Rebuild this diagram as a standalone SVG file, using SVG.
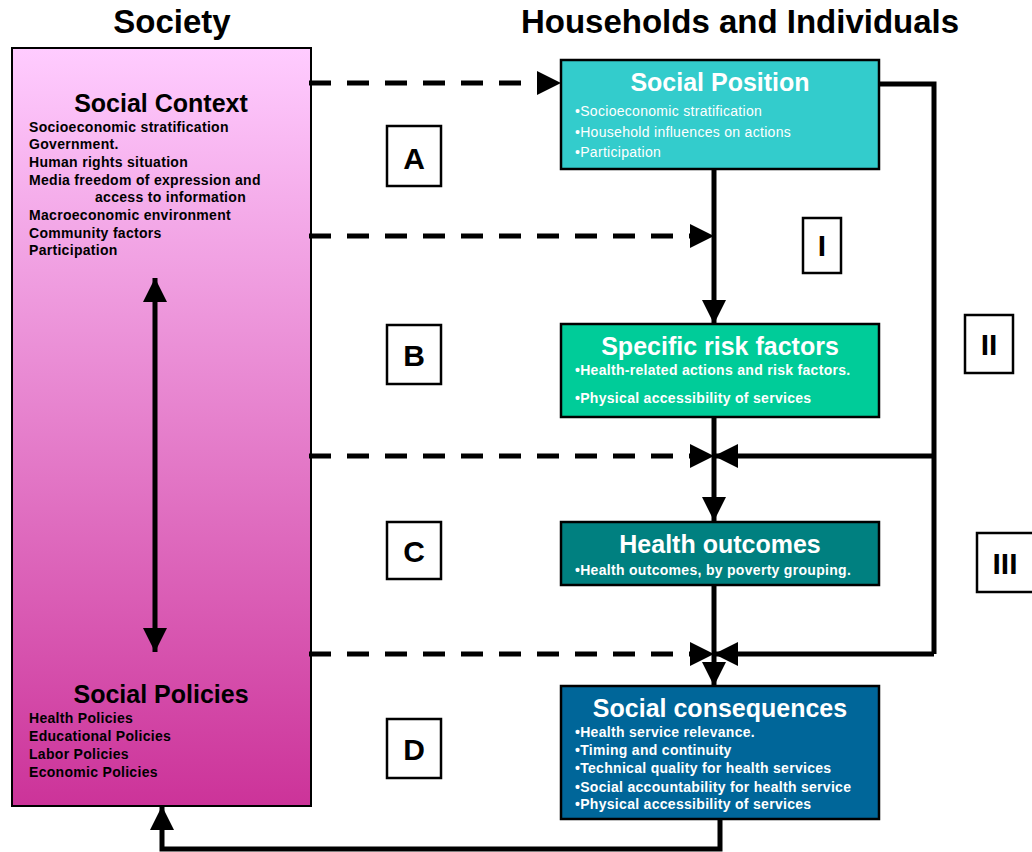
<svg xmlns="http://www.w3.org/2000/svg" width="1032" height="852" viewBox="0 0 1032 852">
  <defs>
    <linearGradient id="societyFill" x1="0" y1="0" x2="0" y2="1">
      <stop offset="0" stop-color="#FFCCFF"/>
      <stop offset="1" stop-color="#CC3399"/>
    </linearGradient>
    <marker id="head" viewBox="0 0 24 24" refX="24" refY="12" markerWidth="24" markerHeight="24" markerUnits="userSpaceOnUse" orient="auto-start-reverse">
      <path d="M0,0 L24,12 L0,24 Z" fill="#000"/>
    </marker>
  </defs>
  <style>
    text { font-family: "Liberation Sans", Arial, sans-serif; }
    .heading { font-size: 33px; font-weight: bold; fill: #000; text-anchor: middle; }
    .title { font-size: 25px; font-weight: bold; text-anchor: middle; }
    .item { font-size: 14px; font-weight: bold; letter-spacing: 0.3px; }
    .itemReg { font-size: 14px; letter-spacing: 0.3px; }
    .dark { fill: #000; }
    .light { fill: #fff; }
    .box { stroke: #000; stroke-width: 2.5; }
    .tag rect { fill: #fff; stroke: #000; stroke-width: 2.5; }
    .tag text { font-size: 30px; font-weight: bold; fill: #000; text-anchor: middle; }
    .solid { fill: none; stroke: #000; stroke-width: 5; }
    .dashed { fill: none; stroke: #000; stroke-width: 5; stroke-dasharray: 22 16; }
  </style>

  <!-- column headings -->
  <text class="heading" x="172" y="33">Society</text>
  <text class="heading" x="740" y="33">Households and Individuals</text>

  <!-- society column -->
  <g id="society">
    <rect x="12" y="48" width="299" height="758" fill="url(#societyFill)" stroke="#000" stroke-width="2"/>
    <text class="title dark" x="161" y="112">Social Context</text>
    <text class="item dark" x="29" y="132">Socioeconomic stratification</text>
    <text class="item dark" x="29" y="149">Government.</text>
    <text class="item dark" x="29" y="167">Human rights situation</text>
    <text class="item dark" x="29" y="185">Media freedom of expression and</text>
    <text class="item dark" x="95" y="202">access to information</text>
    <text class="item dark" x="29" y="220">Macroeconomic environment</text>
    <text class="item dark" x="29" y="238">Community factors</text>
    <text class="item dark" x="29" y="255">Participation</text>
    <text class="title dark" x="161" y="703">Social Policies</text>
    <text class="item dark" x="29" y="723">Health Policies</text>
    <text class="item dark" x="29" y="741">Educational Policies</text>
    <text class="item dark" x="29" y="759">Labor Policies</text>
    <text class="item dark" x="29" y="777">Economic Policies</text>
  </g>

  <!-- household column -->
  <g id="social-position">
    <rect class="box" x="561" y="60" width="318" height="109" fill="#33CCCC"/>
    <text class="title light" x="720" y="91">Social Position</text>
    <text class="itemReg light" x="575" y="116">•Socioeconomic stratification</text>
    <text class="itemReg light" x="575" y="137">•Household influences on actions</text>
    <text class="itemReg light" x="575" y="157">•Participation</text>
  </g>

  <g id="risk-factors">
    <rect class="box" x="561" y="324" width="318" height="93" fill="#00CC99"/>
    <text class="title light" x="720" y="355">Specific risk factors</text>
    <text class="item light" x="575" y="375">•Health-related actions and risk factors.</text>
    <text class="item light" x="575" y="403">•Physical accessibility of services</text>
  </g>

  <g id="health-outcomes">
    <rect class="box" x="561" y="522" width="318" height="63" fill="#008080"/>
    <text class="title light" x="720" y="553">Health outcomes</text>
    <text class="item light" x="575" y="575">•Health outcomes, by poverty grouping.</text>
  </g>

  <g id="social-consequences">
    <rect class="box" x="561" y="686" width="318" height="133" fill="#006699"/>
    <text class="title light" x="720" y="717">Social consequences</text>
    <text class="item light" x="575" y="737">•Health service relevance.</text>
    <text class="item light" x="575" y="755">•Timing and continuity</text>
    <text class="item light" x="575" y="773">•Technical quality for health services</text>
    <text class="item light" x="575" y="792">•Social accountability for health service</text>
    <text class="item light" x="575" y="809">•Physical accessibility of services</text>
  </g>

  <!-- pathway labels -->
  <g id="label-a" class="tag"><rect x="387" y="126" width="54" height="60"/><text x="414" y="169">A</text></g>
  <g id="label-b" class="tag"><rect x="387" y="325" width="54" height="59"/><text x="414" y="366">B</text></g>
  <g id="label-c" class="tag"><rect x="387" y="522" width="54" height="57"/><text x="414" y="562">C</text></g>
  <g id="label-d" class="tag"><rect x="387" y="719" width="54" height="59"/><text x="414" y="760">D</text></g>
  <g id="label-i" class="tag"><rect x="803" y="218" width="38" height="55"/><text x="822" y="256">I</text></g>
  <g id="label-ii" class="tag"><rect x="965" y="315" width="48" height="58"/><text x="989" y="355">II</text></g>
  <g id="label-iii" class="tag"><rect x="977" y="533" width="60" height="59"/><text x="1005" y="574">III</text></g>

  <!-- connectors -->
  <g id="connectors">
    <!-- society to households (dashed) -->
    <path class="dashed" d="M309,83 H537"/>
    <path d="M537,71 L561,83 L537,95 Z" fill="#000"/>
    <path class="dashed" d="M309,236 H690"/>
    <path d="M690,224 L714,236 L690,248 Z" fill="#000"/>
    <path class="dashed" d="M309,456 H690"/>
    <path d="M690,444 L714,456 L690,468 Z" fill="#000"/>
    <path class="dashed" d="M309,654 H690"/>
    <path d="M690,642 L714,654 L690,666 Z" fill="#000"/>

    <!-- main vertical chain -->
    <path class="solid" d="M714,169 V324" marker-end="url(#head)"/>
    <path class="solid" d="M714,417 V521" marker-end="url(#head)"/>
    <path class="solid" d="M714,585 V686" marker-end="url(#head)"/>

    <!-- feedback from social position -->
    <path class="solid" d="M879,84 H934 V654"/>
    <path class="solid" d="M934,456 H714" marker-end="url(#head)"/>
    <path class="solid" d="M934,654 H714" marker-end="url(#head)"/>

    <!-- social consequences back to society -->
    <path class="solid" d="M720,819 V849 H162 V806" marker-end="url(#head)"/>

    <!-- context and policies interaction -->
    <path class="solid" d="M155,278 V652" marker-start="url(#head)" marker-end="url(#head)"/>
  </g>
</svg>
